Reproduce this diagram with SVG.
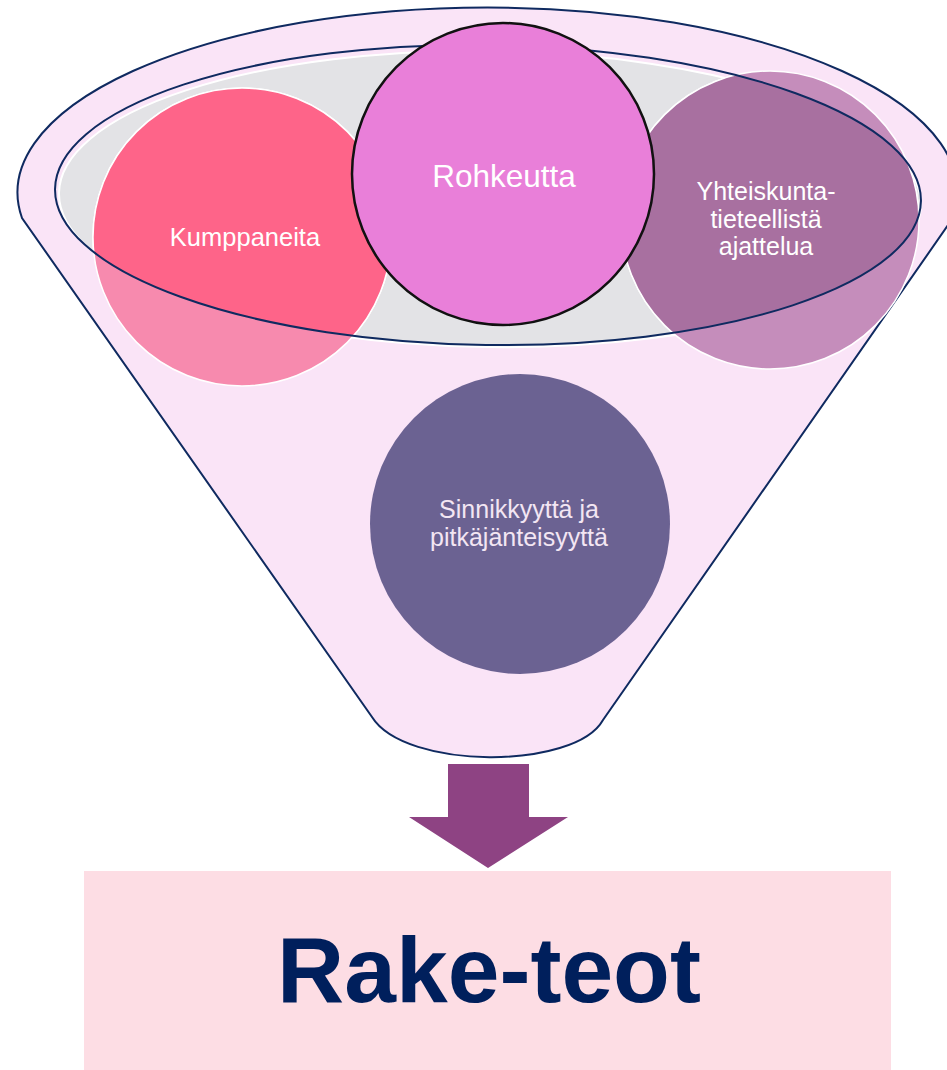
<svg xmlns="http://www.w3.org/2000/svg" width="947" height="1070" viewBox="0 0 947 1070">
  <style>
    .lbl { font-family: "Liberation Sans", Arial, sans-serif; fill: #ffffff; text-anchor: middle; }
    .outline { fill: none; stroke: #0f2a60; stroke-width: 2; }
  </style>
  <defs>
    <clipPath id="innerClip">
      <ellipse cx="488" cy="195" rx="433" ry="150" transform="rotate(0.8 488 195)"/>
    </clipPath>
  </defs>
  <rect width="947" height="1070" fill="#ffffff"/>

  <g id="funnel">
    <path d="M 22,218 A 470,185 0 1 1 953,218 L 603,720 C 575,770 405,770 372,717 Z" fill="#fae4f7" stroke="#0f2a60" stroke-width="2"/>
    <ellipse cx="490" cy="199" rx="431" ry="148" fill="#e3e3e6" stroke="#ffffff" stroke-width="2" transform="rotate(0.8 488 195)"/>
  </g>

  <g id="node-kumppaneita">
    <circle cx="242" cy="237" r="149" fill="#f78aae" stroke="#ffffff" stroke-width="1.5"/>
    <circle cx="242" cy="237" r="149" fill="#fe6489" stroke="#ffffff" stroke-width="1.5" clip-path="url(#innerClip)"/>
    <text class="lbl" x="245" y="246" font-size="25.5">Kumppaneita</text>
  </g>

  <g id="node-yhteiskunta">
    <circle cx="770" cy="220" r="149" fill="#c58dbb" stroke="#ffffff" stroke-width="1.5"/>
    <circle cx="770" cy="220" r="149" fill="#a870a0" stroke="#ffffff" stroke-width="1.5" clip-path="url(#innerClip)"/>
    <text class="lbl" x="766" y="200" font-size="25">Yhteiskunta-</text>
    <text class="lbl" x="766" y="228" font-size="25">tieteellistä</text>
    <text class="lbl" x="766" y="255" font-size="25">ajattelua</text>
  </g>

  <g id="node-sinnikkyytta">
    <circle cx="520" cy="524" r="150" fill="#6b6292"/>
    <text class="lbl" x="519" y="518" font-size="25" style="fill:#f3e6f3">Sinnikkyyttä ja</text>
    <text class="lbl" x="519" y="546" font-size="25" style="fill:#f3e6f3">pitkäjänteisyyttä</text>
  </g>

  <g id="inner-rim">
    <ellipse class="outline" cx="488" cy="195" rx="433" ry="150" transform="rotate(0.8 488 195)"/>
  </g>

  <g id="node-rohkeutta">
    <circle cx="503" cy="174" r="151" fill="#e97fd9" stroke="#111111" stroke-width="2.5"/>
    <text class="lbl" x="504" y="187" font-size="31.5">Rohkeutta</text>
  </g>

  <g id="connectors">
    <polygon points="448,764 529,764 529,817 568,817 488,868 409,817 448,817" fill="#8e4383"/>
  </g>

  <g id="node-rake-teot">
    <rect x="84" y="871" width="807" height="199" fill="#fddde4"/>
    <text x="489" y="1002" font-family="Liberation Sans, Arial, sans-serif" font-weight="bold" font-size="93" fill="#001f5c" text-anchor="middle">Rake-teot</text>
  </g>
</svg>
